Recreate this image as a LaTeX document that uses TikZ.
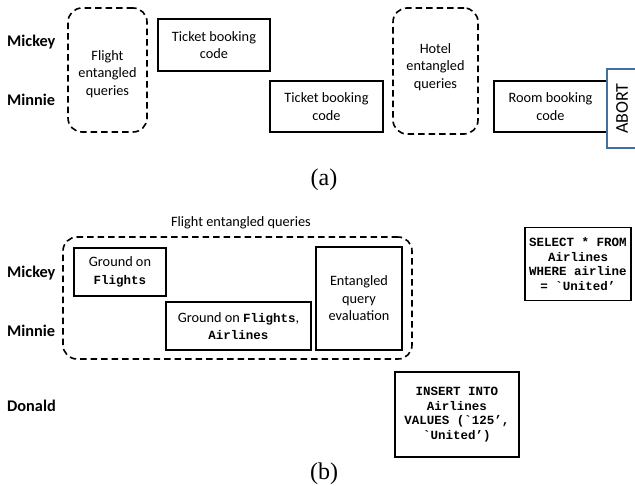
\documentclass[tikz,border=0pt]{standalone}
\usepackage{fontspec}
\setmainfont{Carlito}
\newfontfamily\codefont{Liberation Mono}
\newfontfamily\capfont{Liberation Serif}
\definecolor{abortblue}{RGB}{65,113,156}
\begin{document}
\begin{tikzpicture}[x=1pt,y=-1pt,
  box/.style={draw, line width=1.4pt, align=center, inner sep=0pt,
    font=\fontsize{14.3}{17.5}\selectfont},
  dbox/.style={draw, line width=1.6pt, dash pattern=on 6.5pt off 4pt,
    rounded corners=14pt, inner sep=0pt},
  codebox/.style={draw, line width=1.4pt, align=center, inner sep=0pt,
    font=\codefont\bfseries\fontsize{12.5}{14.7}\selectfont},
  who/.style={anchor=west, inner sep=0pt, font=\bfseries\fontsize{16.3}{19}\selectfont},
  captxt/.style={inner sep=0pt, font=\capfont\fontsize{24}{28}\selectfont},
  plain/.style={inner sep=0pt, align=center, font=\fontsize{14.3}{17.5}\selectfont},
  mono/.style={font=\codefont\bfseries\fontsize{12.5}{14}\selectfont}]
\useasboundingbox (0,0) rectangle (635,485);
% ---- part (a)
\node[who] (mickeyA) at (7,42) {Mickey};
\node[who] (minnieA) at (7,100) {Minnie};
\node[dbox, minimum width=79pt, minimum height=124pt] (flight) at (107.5,70) {};
\node[plain] (flighttxt) at (107.5,74) {Flight\\entangled\\queries};
\node[box, minimum width=112pt, minimum height=52pt] (tick1) at (214,45)
  {Ticket booking\\code};
\node[box, minimum width=113pt, minimum height=51pt] (tick2) at (326.5,106.5)
  {Ticket booking\\code};
\node[dbox, minimum width=85pt, minimum height=126pt] (hotel) at (435.5,71) {};
\node[plain] (hoteltxt) at (435.5,67) {Hotel\\entangled\\queries};
\node[box, minimum width=113pt, minimum height=51pt] (room) at (550.5,106.5)
  {Room booking\\code};
\node[draw=abortblue, line width=1.4pt, minimum width=35pt, minimum height=79pt,
  inner sep=0pt] (abort) at (624.5,108.5) {};
\node[plain, rotate=90, font=\fontsize{18}{20}\selectfont] (aborttxt) at (622,108.5) {ABORT};
\node[captxt] (capa) at (324,180) {(a)};
% ---- part (b)
\node[plain] (flightlbl) at (241,223) {Flight entangled queries};
\node[dbox, minimum width=349pt, minimum height=122pt] (big) at (237.5,298) {};
\node[who] (mickeyB) at (7,273) {Mickey};
\node[who] (minnieB) at (7,331) {Minnie};
\node[who] (donald) at (7,406) {Donald};
\node[box, minimum width=92pt, minimum height=48pt] (g1) at (120,272)
  {Ground on\\{\codefont\bfseries\fontsize{12.5}{14}\selectfont Flights}};
\node[box, minimum width=145pt, minimum height=48pt] (g2) at (238.5,326)
  {Ground on {\codefont\bfseries\fontsize{12.5}{14}\selectfont Flights},\\
   {\codefont\bfseries\fontsize{12.5}{14}\selectfont Airlines}};
\node[box, minimum width=86pt, minimum height=103pt] (eqe) at (359,298.5)
  {Entangled\\query\\evaluation};
\node[codebox, minimum width=106pt, minimum height=73pt] (sel) at (578,264)
  {SELECT * FROM\\Airlines\\WHERE airline\\= \textasciigrave United’};
\node[codebox, minimum width=124pt, minimum height=85pt] (ins) at (457,414.5)
  {INSERT INTO\\Airlines\\VALUES (\textasciigrave 125’,\\\textasciigrave United’)};
\node[captxt] (capb) at (324,474) {(b)};
\end{tikzpicture}
\end{document}
